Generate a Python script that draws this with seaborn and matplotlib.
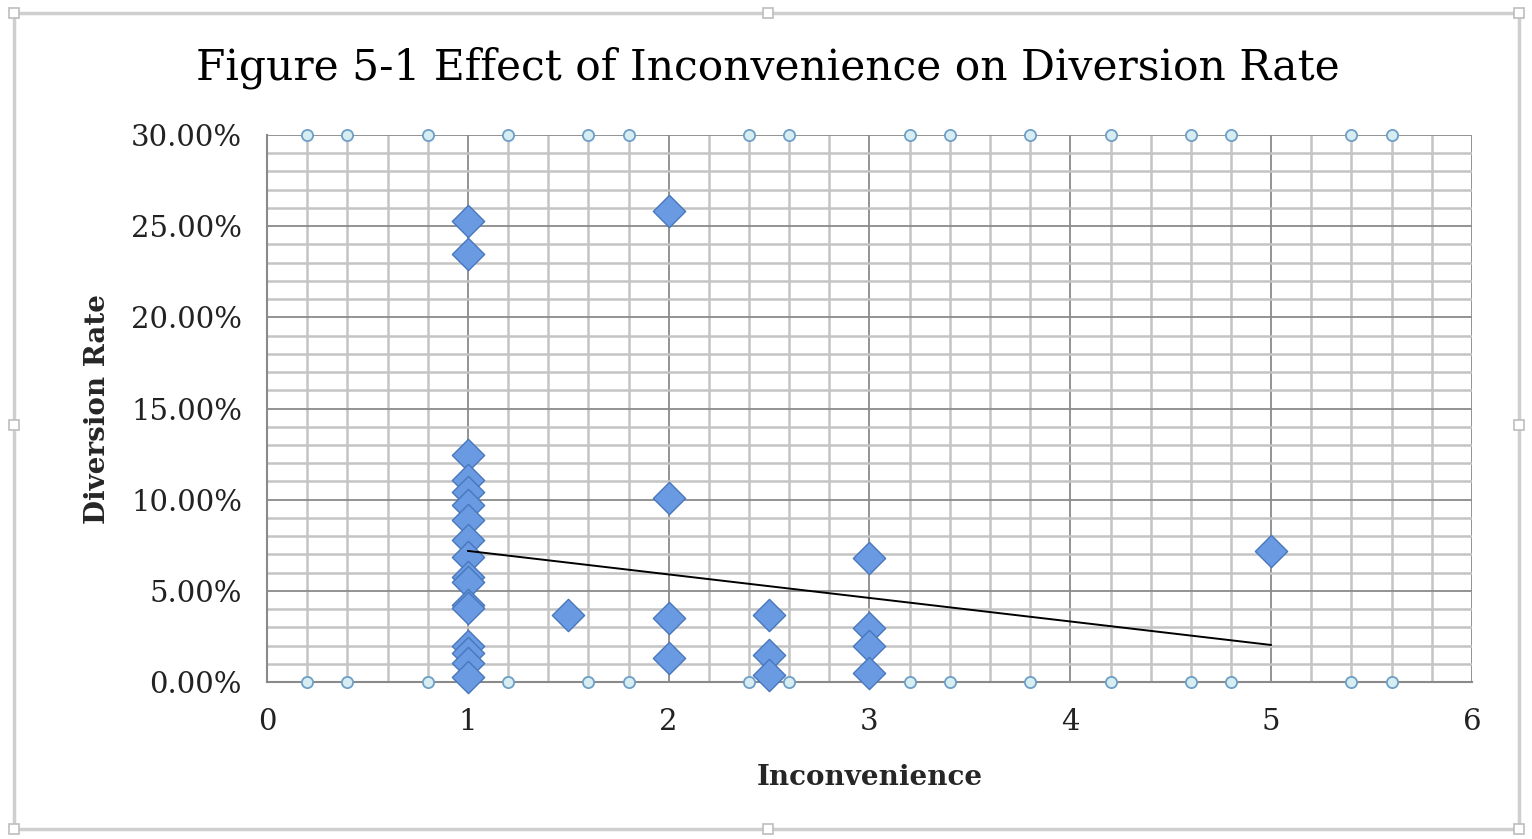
import matplotlib
matplotlib.use("Agg")
import matplotlib.pyplot as plt
import seaborn as sns
import pandas as pd
from matplotlib.ticker import MultipleLocator, PercentFormatter
from matplotlib.patches import Rectangle

# diversion rate (%) by inconvenience level
inconvenience = [1, 1, 1, 1, 1, 1, 1, 1, 1, 1, 1, 1, 1, 1, 1, 1, 1,
                 1.5,
                 2, 2, 2, 2,
                 2.5, 2.5, 2.5,
                 3, 3, 3, 3,
                 5]
diversion = [25.3, 23.5, 12.45, 11.1, 10.4, 9.7, 8.9, 7.8, 6.85, 5.75, 5.5, 4.2, 4.05, 2.0, 1.6, 1.05, 0.25,
             3.7,
             25.85, 10.1, 3.5, 1.3,
             3.7, 1.5, 0.4,
             6.8, 2.95, 2.0, 0.5,
             7.2]

# trend line end points
trend_x = [1, 5]
trend_y = [7.19, 2.03]

# small circle markers sitting on the bottom and top edges
edge_x = [0.2, 0.4, 0.8, 1.2, 1.6, 1.8, 2.4, 2.6, 3.2, 3.4, 3.8, 4.2, 4.6, 4.8, 5.4, 5.6]
edge_bottom = [0.0] * len(edge_x)
edge_top = [30.0] * len(edge_x)

df = pd.DataFrame({"Inconvenience": inconvenience, "Diversion Rate": diversion})
trend = pd.DataFrame({"x": trend_x, "y": trend_y})
edges = pd.DataFrame({"x": edge_x + edge_x, "y": edge_bottom + edge_top})

sns.set_style("white")
plt.rcParams["font.family"] = ["DejaVu Serif"]

fig = plt.figure(figsize=(15.32, 8.39), dpi=100)
ax = fig.add_axes([267 / 1532, 1 - 682 / 839, 1205 / 1532, 547 / 839])

# grid
ax.set_xlim(0, 6)
ax.set_ylim(0, 30)
ax.xaxis.set_major_locator(MultipleLocator(1))
ax.xaxis.set_minor_locator(MultipleLocator(0.2))
ax.yaxis.set_major_locator(MultipleLocator(5))
ax.yaxis.set_minor_locator(MultipleLocator(1))
ax.grid(which="minor", color="#c4c4c4", lw=1.8, zorder=0)
ax.grid(which="major", color="#8a8a8a", lw=1.3, zorder=0)
ax.set_axisbelow(True)
for s in ["top", "right"]:
    ax.spines[s].set_visible(False)
for s in ["left", "bottom"]:
    ax.spines[s].set_color("#8a8a8a")
    ax.spines[s].set_linewidth(1.5)

sns.scatterplot(data=edges, x="x", y="y", ax=ax, marker="o", s=65,
                color="#d6eef2", edgecolor="#6f9ec6", linewidth=1.3,
                clip_on=False, zorder=3)

sns.scatterplot(data=df, x="Inconvenience", y="Diversion Rate", ax=ax,
                marker="D", s=270, color="#6a9be2", edgecolor="#4777bd",
                linewidth=1.0, clip_on=False, zorder=4)

sns.lineplot(data=trend, x="x", y="y", ax=ax, color="black", lw=1.4, zorder=5)

ax.yaxis.set_major_formatter(PercentFormatter(decimals=2))
ax.tick_params(axis="both", which="major", length=8, width=1.3, color="#8a8a8a",
               labelsize=21, labelcolor="#222222", pad=10)
ax.tick_params(axis="x", which="minor", length=4, width=1.0, color="#b0b0b0")
ax.tick_params(axis="y", which="minor", length=0)
ax.tick_params(axis="x", which="major", pad=11)

ax.set_xlabel("Inconvenience", fontsize=20, fontweight="bold", labelpad=20)
ax.set_ylabel("Diversion Rate", fontsize=20, fontweight="bold", labelpad=14)

fig.text(768 / 1532, 1 - 68 / 839, "Figure 5-1 Effect of Inconvenience on Diversion Rate",
         ha="center", va="center", fontsize=30.5, color="black")

# chart frame
fig.add_artist(Rectangle((14 / 1532, 10 / 839), 1505 / 1532, 816 / 839,
                         transform=fig.transFigure, fill=False,
                         edgecolor="#cfcfcf", lw=2.5))
for hx, hy in [(14, 13), (768, 13), (1519, 13), (14, 425), (1519, 425),
               (14, 829), (768, 829), (1519, 829)]:
    fig.add_artist(Rectangle(((hx - 5) / 1532, 1 - (hy + 5) / 839), 10 / 1532, 10 / 839,
                             transform=fig.transFigure, facecolor="white",
                             edgecolor="#bdbdbd", lw=1.2))

fig.savefig("out.png", dpi=100)
